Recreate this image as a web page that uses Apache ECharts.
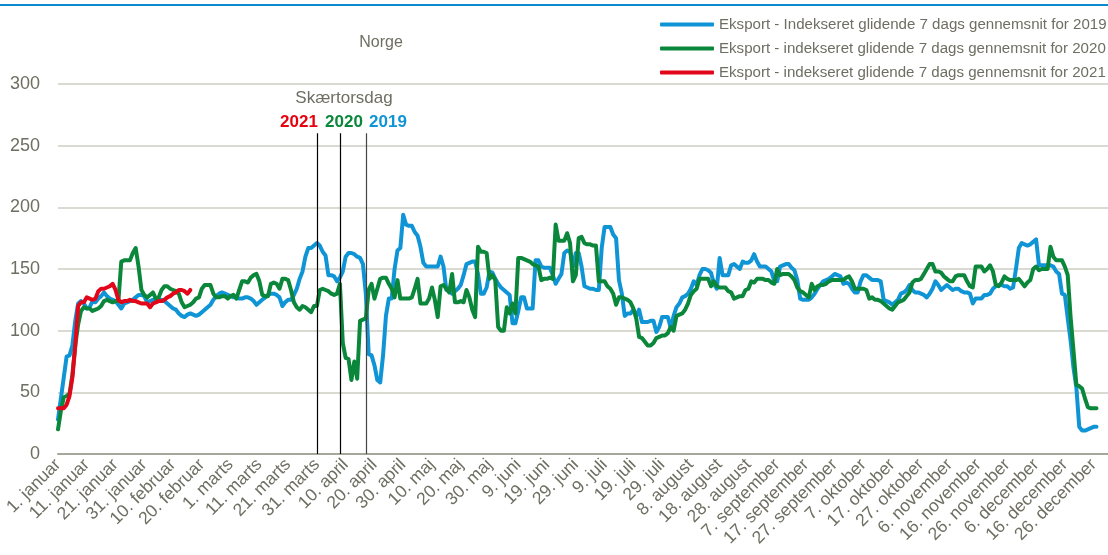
<!DOCTYPE html>
<html>
<head>
<meta charset="utf-8">
<script src="https://cdn.jsdelivr.net/npm/echarts@6/dist/echarts.min.js"></script>
<style>
html,body{margin:0;padding:0;background:#fff;}
#chart{width:1108px;height:555px;}
</style>
</head>
<body>
<div id="chart"></div>
<script>
// ---- tick labels / categories (leap-year day axis, Danish month names) ----
const monthNames = ['januar','februar','marts','april','maj','juni','juli','august','september','oktober','november','december'];
const monthDays = [31,29,31,30,31,30,31,31,30,31,30,31];

// ---- series names ----
const names = [
  'Eksport - Indekseret glidende 7 dags gennemsnit for 2019',
  'Eksport - indekseret glidende 7 dags gennemsnit for 2020',
  'Eksport - indekseret glidende 7 dags gennemsnit for 2021'
];

// ---- values (index, one per day) ----
const values2019 = [
  28,45,62,79,80,88,108,122,124,122,
  118,119,124,123,126,128,131,128,126,125,
  124,121,118,122,123,124,125,127,129,129,
  128,123,124,125,126,125,125,124,122,120,
  118,117,114,112,111,113,114,113,112,113,
  115,117,119,121,125,128,130,131,130,129,
  128,127,127,126,126,127,127,126,124,121,
  123,125,127,129,130,130,129,127,120,123,
  125,125,129,134,142,148,160,167,167,169,
  171,169,164,161,145,145,144,140,143,148,
  160,163,163,162,160,159,154,130,81,80,
  72,60,58,80,112,126,126,150,165,167,
  194,186,185,185,180,177,168,155,152,152,
  152,152,152,160,152,133,133,130,132,134,
  137,145,154,155,156,156,146,130,130,135,
  148,147,142,138,135,133,131,129,106,106,
  116,127,127,118,118,118,157,157,152,151,
  151,151,145,138,142,146,163,165,164,152,
  163,163,152,136,135,134,134,133,133,167,
  184,184,184,178,175,141,130,112,114,114,
  117,112,117,107,107,107,108,108,99,103,
  111,111,111,102,112,119,122,127,128,130,
  134,140,137,145,150,150,149,147,138,134,
  159,145,145,145,153,154,152,150,156,155,
  155,157,162,156,152,152,152,150,148,140,
  140,152,153,154,154,151,149,141,126,125,
  125,125,127,130,134,137,140,141,142,144,
  146,145,144,138,139,138,134,131,131,140,
  145,145,143,141,141,141,140,125,124,123,
  121,123,125,130,131,133,137,133,131,131,
  130,129,127,130,134,140,137,133,135,137,
  135,133,134,134,132,131,131,130,122,126,
  126,126,129,129,130,134,136,137,137,136,
  136,134,135,150,167,171,170,169,170,172,
  174,153,153,153,153,153,152,148,146,130,
  129,110,92,70,54,22,19,19,20,21,
  22,22
];
const values2020 = [
  20,35,46,47,49,64,88,105,116,119,
  118,118,116,117,118,120,124,125,124,123,
  124,124,156,157,157,157,163,167,152,133,
  129,127,129,131,126,127,133,136,136,134,
  133,132,130,123,119,120,121,123,126,127,
  134,137,137,137,130,127,127,128,128,126,
  128,129,126,133,140,140,139,143,145,146,
  140,129,128,128,138,139,138,134,142,142,
  141,133,123,119,117,120,119,117,115,120,
  120,133,134,133,132,130,129,130,138,90,
  78,77,60,75,61,108,109,110,133,138,
  126,134,142,143,143,138,134,127,141,126,
  126,126,126,127,134,142,122,122,122,126,
  135,125,111,136,137,134,131,146,123,123,
  124,123,133,127,117,111,168,164,164,163,
  142,145,141,103,100,100,119,114,122,114,
  159,159,158,157,156,154,153,152,141,142,
  142,143,142,186,173,173,173,179,171,140,
  145,175,176,171,170,170,169,169,140,140,
  140,136,134,130,121,127,127,126,125,123,
  118,110,95,94,91,88,88,90,94,95,
  96,96,98,103,100,112,113,114,117,122,
  129,132,134,142,142,142,142,136,140,136,
  135,135,135,132,131,126,127,128,128,133,
  134,140,139,142,142,142,141,141,139,138,
  150,145,146,146,146,144,141,135,132,131,
  129,127,138,133,136,137,137,138,140,141,
  141,141,141,141,143,144,140,134,134,134,
  134,133,126,127,125,125,124,122,120,118,
  117,120,123,124,125,128,131,139,141,141,
  142,146,150,154,154,148,148,147,144,142,
  140,140,144,145,145,145,140,136,135,152,
  152,152,148,150,153,148,137,136,139,144,
  142,141,141,141,142,139,136,139,141,150,
  152,149,150,150,150,168,160,157,157,157,
  152,145,111,84,56,55,53,45,38,37,
  37,37
];
const values2021 = [
  37,37,37,40,47,62,88,120,123,123,
  127,126,125,126,132,134,134,135,136,138,
  133,125,123,124,124,125,124,124,123,122,
  122,122,119,122,123,124,124,125,127,128,
  130,131,133,133,132,130,133
];

// ---- Skærtorsdag markers (day index on axis) ----
const easterYears = ['2021','2020','2019'];
const easterDay = [90, 98, 107];
const easterTop = 260;

// build category labels
const cats = [];
monthNames.forEach((m, i) => {
  for (let d = 1; d <= monthDays[i]; d++) cats.push(d + '. ' + m);
});

const colors = ['#0f94d6', '#0a873a', '#e2061b'];
const txt = '#6e6e62';
const FONT = '"Liberation Sans", Arial, sans-serif';

const chart = echarts.init(document.getElementById('chart'), null, {renderer: 'canvas'});

const markData = easterDay.map((d, i) => [
  {coord: [d, 0], lineStyle: {color: i === 2 ? '#444' : '#000'}},
  {coord: [d, easterTop]}
]);

const option = {
  animation: false,
  backgroundColor: '#fff',
  grid: {left: 58, top: 84, width: 365 * 2.905, height: 370, containLabel: false},
  legend: {
    orient: 'vertical',
    left: 655,
    top: 11,
    itemWidth: 54,
    itemHeight: 4,
    itemGap: 7,
    icon: 'roundRect',
    data: names,
    textStyle: {fontSize: 15.1, color: txt, fontFamily: FONT, lineHeight: 17}
  },
  xAxis: {
    type: 'category',
    data: cats,
    boundaryGap: false,
    axisLine: {lineStyle: {color: '#a6a69b', width: 2}},
    axisTick: {show: false},
    splitLine: {show: false},
    axisLabel: {interval: 9, rotate: 45, fontSize: 17.5, color: txt, fontFamily: FONT, margin: 8}
  },
  yAxis: {
    type: 'value',
    min: 0, max: 300, interval: 50,
    axisLine: {show: false},
    axisTick: {show: false},
    axisLabel: {fontSize: 18, color: txt, fontFamily: FONT, margin: 18},
    splitLine: {lineStyle: {color: '#dadad3', width: 2}}
  },
  series: [
    {name: names[0], type: 'line', data: values2019, showSymbol: false, color: colors[0],
     lineStyle: {width: 4, color: colors[0], cap: 'round', join: 'round'}, z: 2},
    {name: names[1], type: 'line', data: values2020, showSymbol: false, color: colors[1],
     lineStyle: {width: 4, color: colors[1], cap: 'round', join: 'round'}, z: 3},
    {name: names[2], type: 'line', data: values2021, showSymbol: false, color: colors[2],
     lineStyle: {width: 4, color: colors[2], cap: 'round', join: 'round'}, z: 4,
     markLine: {silent: true, symbol: 'none', label: {show: false},
       lineStyle: {color: '#000', width: 1.2, type: 'solid'}, data: markData}}
  ],
  graphic: [
    {type: 'line', shape: {x1: 0, y1: 5, x2: 1108, y2: 5}, style: {stroke: '#0a8bd0', lineWidth: 2}},
    {type: 'text', x: 381, y: 43, style: {text: 'Norge', font: '16px ' + FONT, fill: txt, align: 'center', verticalAlign: 'middle'}},
    {type: 'text', x: 344, y: 98, style: {text: 'Skærtorsdag', font: '17px ' + FONT, fill: txt, align: 'center', verticalAlign: 'middle'}},
    {type: 'text', x: 299, y: 122, style: {text: easterYears[0], font: 'bold 17px ' + FONT, fill: '#e8000f', align: 'center', verticalAlign: 'middle'}},
    {type: 'text', x: 344, y: 122, style: {text: easterYears[1], font: 'bold 17px ' + FONT, fill: colors[1], align: 'center', verticalAlign: 'middle'}},
    {type: 'text', x: 388, y: 122, style: {text: easterYears[2], font: 'bold 17px ' + FONT, fill: colors[0], align: 'center', verticalAlign: 'middle'}}
  ]
};
chart.setOption(option);
</script>
</body>
</html>
